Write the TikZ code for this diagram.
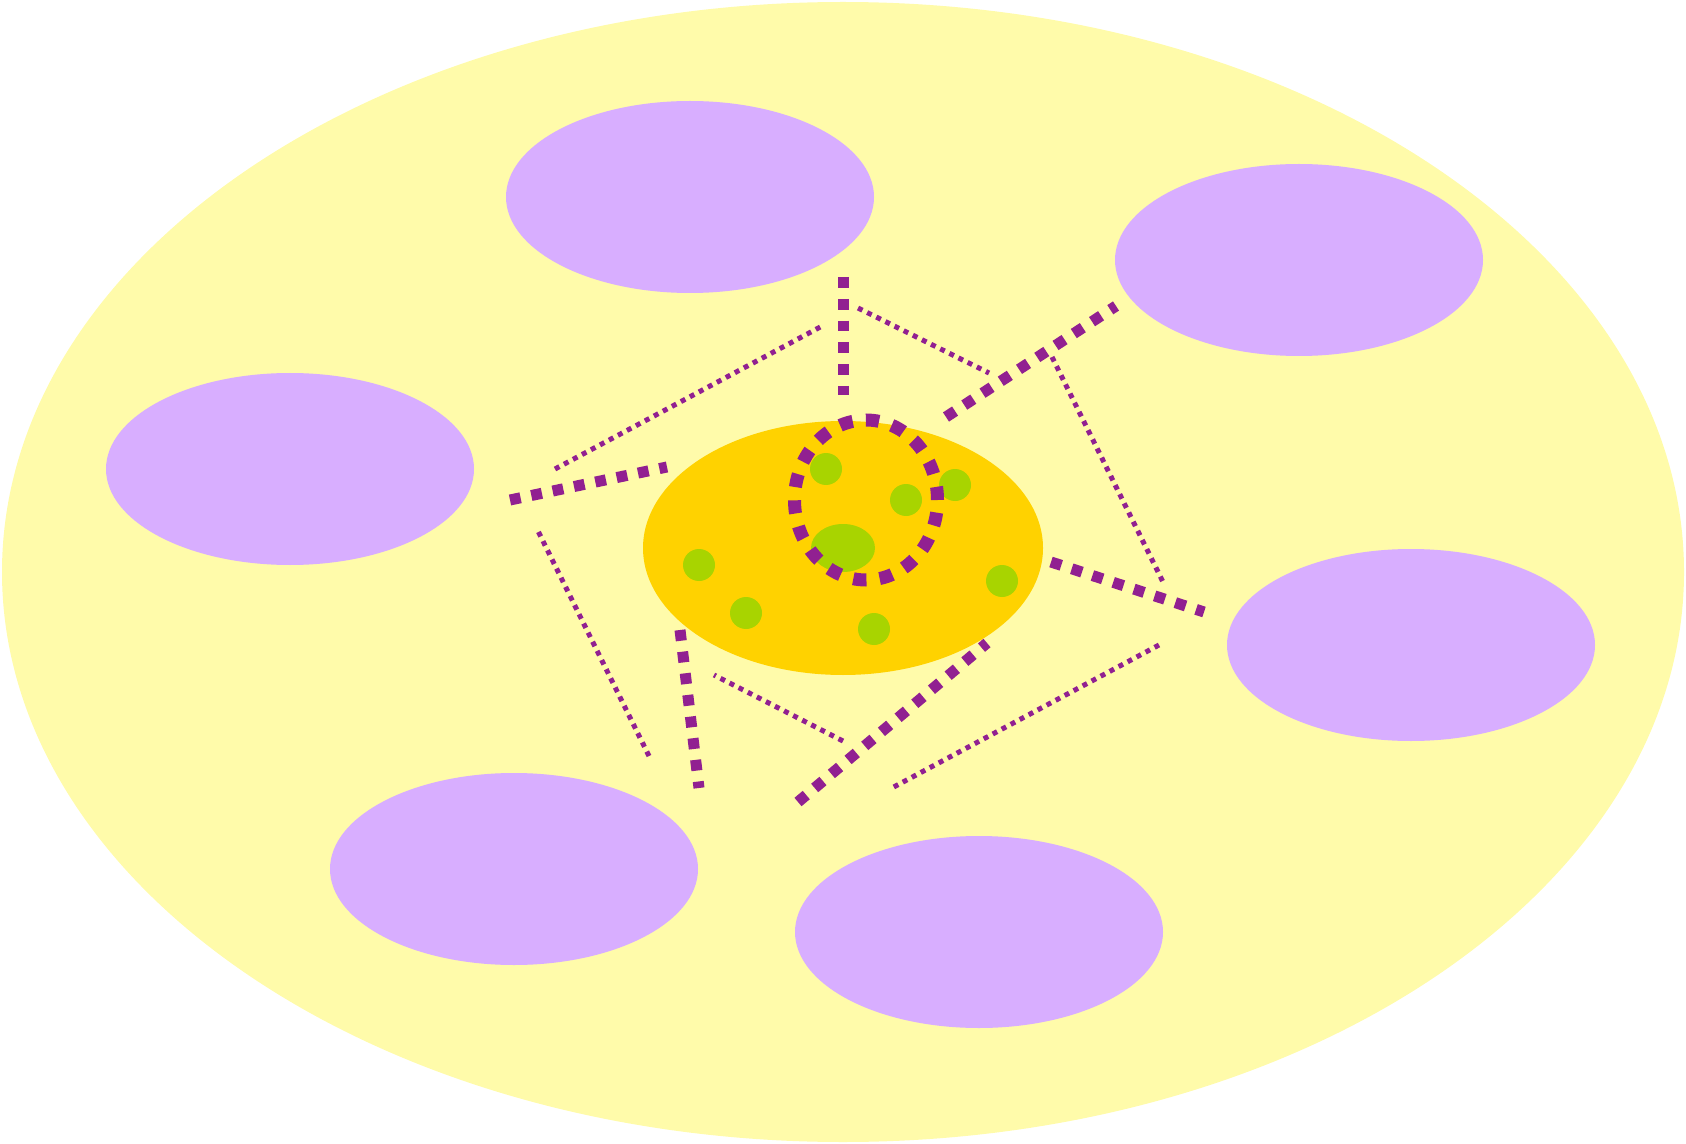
\documentclass[tikz,border=0pt]{standalone}
\usetikzlibrary{shapes.geometric}
\definecolor{paleyellow}{RGB}{255,251,170}
\definecolor{lilac}{RGB}{216,174,255}
\definecolor{gold}{RGB}{255,210,0}
\definecolor{lime}{RGB}{168,212,0}
\definecolor{plum}{RGB}{145,32,145}
\begin{document}
\begin{tikzpicture}[x=0.5pt,y=-0.5pt,
  blob/.style={ellipse, inner sep=0pt, outer sep=0pt, draw=none},
  bigblob/.style={blob, fill=paleyellow, minimum width=841pt, minimum height=570pt},
  lilacblob/.style={blob, fill=lilac, minimum width=184pt, minimum height=96pt},
  coreblob/.style={blob, fill=gold, minimum width=200pt, minimum height=127pt},
  dot/.style={circle, fill=lime, inner sep=0pt, minimum size=16pt},
  thickdash/.style={draw=plum, line width=5.5pt, dash pattern=on 5.4pt off 5.5pt},
  thindot/.style={draw=plum, line width=2.5pt, dash pattern=on 2.5pt off 2.6pt},
  ringdash/.style={draw=plum, line width=6.5pt, dash pattern=on 6.6pt off 6.65pt}]
\useasboundingbox (0,0) rectangle (1686,1144);
\node[bigblob] (world) at (843,572) {};
\node[lilacblob] (n1) at (690,197) {};
\node[lilacblob] (n2) at (1299,260) {};
\node[lilacblob] (n3) at (290,469) {};
\node[lilacblob] (n4) at (1411,645) {};
\node[lilacblob] (n5) at (514,869) {};
\node[lilacblob] (n6) at (979,932) {};
\node[coreblob] (core) at (843,548) {};
\node[dot] (d1) at (826,469) {};
\node[dot] (d2) at (906,500) {};
\node[dot] (d3) at (955,485) {};
\node[dot] (d4) at (699,565) {};
\node[dot] (d5) at (746,613) {};
\node[dot] (d6) at (874,629) {};
\node[dot] (d7) at (1002,581) {};
\node[blob, fill=lime, minimum width=32pt, minimum height=24pt] (nucleus) at (843,548) {};
% thick dashed segments
\coordinate (a1) at (843,277); \coordinate (a2) at (843,395);
\coordinate (b1) at (946,417); \coordinate (b2) at (1116,306);
\coordinate (c1) at (510,500); \coordinate (c2) at (667,467);
\coordinate (e1) at (1051,562); \coordinate (e2) at (1204,612);
\coordinate (f1) at (680,630); \coordinate (f2) at (699,788);
\coordinate (g1) at (798,802); \coordinate (g2) at (987,643);
\draw[thickdash] (a1) -- (a2);
\draw[thickdash] (b1) -- (b2);
\draw[thickdash] (c1) -- (c2);
\draw[thickdash] (e1) -- (e2);
\draw[thickdash] (f1) -- (f2);
\draw[thickdash] (g1) -- (g2);
% thin dotted segments
\coordinate (p1) at (555,469); \coordinate (p2) at (824,325);
\coordinate (q1) at (858,308); \coordinate (q2) at (989,373);
\coordinate (r1) at (1052,357); \coordinate (r2) at (1163,582);
\coordinate (s1) at (1159,645); \coordinate (s2) at (890,789);
\coordinate (t1) at (843,741); \coordinate (t2) at (714,675);
\coordinate (u1) at (649,756); \coordinate (u2) at (538,531);
\draw[thindot] (p1) -- (p2);
\draw[thindot] (q1) -- (q2);
\draw[thindot] (r1) -- (r2);
\draw[thindot] (s1) -- (s2);
\draw[thindot] (t1) -- (t2);
\draw[thindot] (u1) -- (u2);
\node[blob, ringdash, minimum width=71.5pt, minimum height=80pt] (ring) at (866,500) {};
\end{tikzpicture}
\end{document}
